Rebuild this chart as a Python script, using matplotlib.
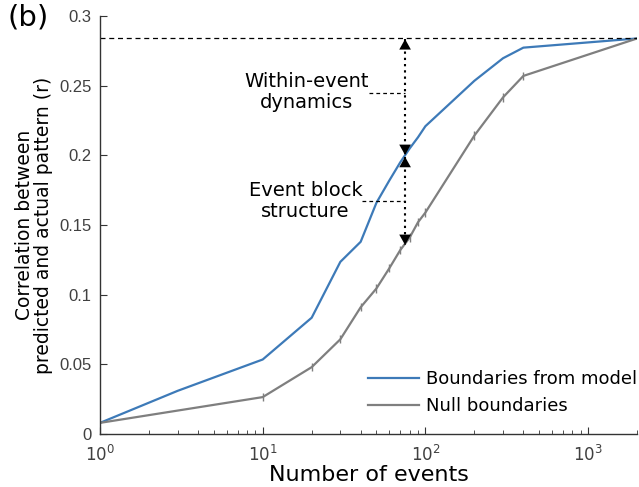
import matplotlib
matplotlib.use('Agg')
import matplotlib.pyplot as plt
import numpy as np
from matplotlib.ticker import LogLocator, FuncFormatter, NullFormatter

plt.rcParams['font.family'] = 'DejaVu Sans'
plt.rcParams['mathtext.fontset'] = 'custom'
plt.rcParams['mathtext.rm'] = 'Liberation Sans'
plt.rcParams['mathtext.it'] = 'Liberation Sans:italic'

# number of events (x) and correlation values
n_model = [1, 3, 10, 20, 30, 40, 50, 60, 70, 80, 90, 100, 200, 300, 400, 2000]
r_model = [0.008, 0.031, 0.0535, 0.0835, 0.1236, 0.138, 0.166, 0.182, 0.195,
           0.205, 0.213, 0.221, 0.2536, 0.2698, 0.2774, 0.284]

n_null = [1, 10, 20, 30, 40, 50, 60, 70, 80, 90, 100, 200, 300, 400, 2000]
r_null = [0.008, 0.0265, 0.048, 0.068, 0.091, 0.1045, 0.119, 0.132, 0.141,
          0.152, 0.159, 0.2143, 0.2417, 0.2571, 0.284]
err_null = [0, 0.003, 0.003, 0.003, 0.003, 0.003, 0.003, 0.003, 0.003,
            0.003, 0.003, 0.003, 0.003, 0.003, 0]

r_max = 0.284          # dashed ceiling
arrow_n = 75           # where the dotted arrows sit
arrow_levels = [0.2835, 0.2003, 0.199, 0.1357]
yticks = [0, 0.05, 0.1, 0.15, 0.2, 0.25, 0.3]

blue = '#3d7ab8'
grey = '#7f7f7f'
axcol = '#333333'

fig = plt.figure(figsize=(6.39, 4.87), dpi=100)
ax = fig.add_axes([0.1565, 0.1088, 0.8405, 0.8580])

ax.plot(n_model, r_model, color=blue, lw=1.6, label='Boundaries from model')
ax.plot(n_null, r_null, color=grey, lw=1.6, label='Null boundaries')
ax.errorbar(n_null, r_null, yerr=err_null, fmt='none', ecolor=grey,
            elinewidth=1.0, capsize=0)

ax.axhline(r_max, color='k', lw=0.9, ls=(0, (4, 3)))

# dotted shafts + solid triangular heads
heads = dict(arrowstyle='<|-|>,head_length=0.75,head_width=0.42', lw=0,
             fc='k', ec='none', shrinkA=0, shrinkB=0, mutation_scale=10)
for top, bot in [(arrow_levels[0], arrow_levels[1]),
                 (arrow_levels[2], arrow_levels[3])]:
    ax.plot([arrow_n, arrow_n], [top, bot], color='k', lw=1.5,
            ls=(0, (1.1, 1.9)))
    ax.annotate('', xy=(arrow_n, top), xytext=(arrow_n, bot), arrowprops=heads)

# short connectors to the text
ax.plot([45, arrow_n], [0.245, 0.245], color='k', lw=0.9, ls=(0, (3, 2.5)))
ax.plot([41, arrow_n], [0.1675, 0.1675], color='k', lw=0.9, ls=(0, (3, 2.5)))
ax.text(18.6, 0.2456, 'Within-event\ndynamics', ha='center', va='center',
        fontsize=14, linespacing=1.15)
ax.text(18.3, 0.1675, 'Event block\nstructure', ha='center', va='center',
        fontsize=14, linespacing=1.15)

ax.set_xscale('log')
ax.set_xlim(1, 2000)
ax.set_ylim(0, 0.3)
ax.set_yticks(yticks)
ax.yaxis.set_major_formatter(FuncFormatter(lambda v, p: '%g' % v))
ax.xaxis.set_major_locator(LogLocator(base=10, numticks=10))
ax.xaxis.set_minor_locator(LogLocator(base=10, subs=np.arange(2, 10), numticks=10))
ax.xaxis.set_minor_formatter(NullFormatter())

for s in ['top', 'right']:
    ax.spines[s].set_visible(False)
for s in ['left', 'bottom']:
    ax.spines[s].set_color(axcol)
    ax.spines[s].set_linewidth(1.0)

ax.tick_params(which='both', direction='in', colors=axcol, labelcolor='#404040')
ax.tick_params(axis='y', which='major', length=5, labelsize=12, pad=6)
ax.tick_params(axis='x', which='major', length=5, labelsize=12, pad=8)
ax.tick_params(axis='x', which='minor', length=3)
for lab in ax.get_yticklabels():
    lab.set_family('Liberation Sans')

ax.set_xlabel('Number of events', fontsize=16, labelpad=-0.5)
ax.set_ylabel('Correlation between\npredicted and actual pattern (r)',
              fontsize=13.5, linespacing=1.0)
ax.yaxis.set_label_coords(-0.088, 0.5)

ax.legend(loc='lower right', bbox_to_anchor=(1.0, 0.045), frameon=False,
          fontsize=13, handlelength=2.8, handletextpad=0.4, labelspacing=0.5,
          borderaxespad=0, borderpad=0)

fig.text(0.012, 0.992, '(b)', fontsize=21, va='top', ha='left')

fig.savefig('out.png', dpi=100)
